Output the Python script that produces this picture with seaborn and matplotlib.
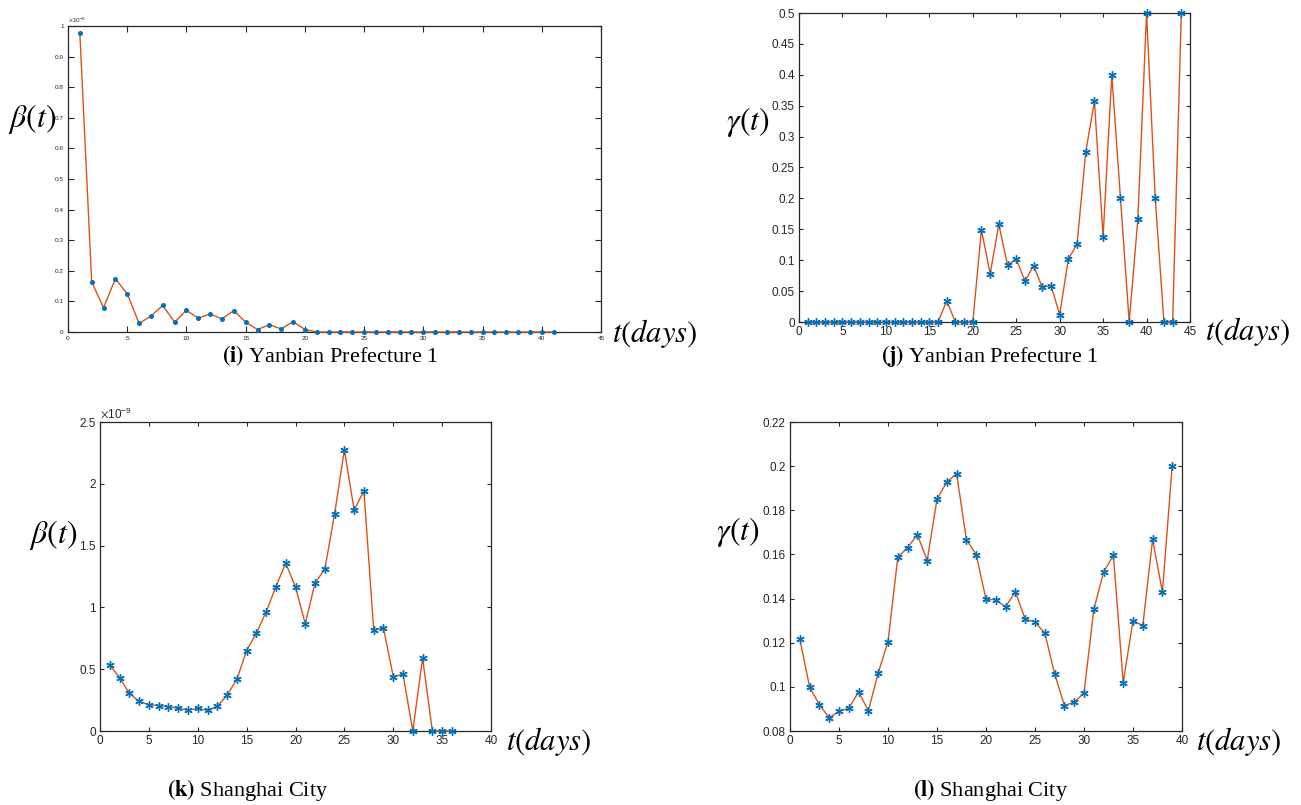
import numpy as np
import matplotlib
matplotlib.use("Agg")
import matplotlib.pyplot as plt
import seaborn as sns
from matplotlib.ticker import ScalarFormatter

# ---- data -------------------------------------------------------------
# Yanbian Prefecture 1: infection rate beta(t), in units of 1e-6
days_yb_beta = list(range(1, 42))
beta_yb = [0.977, 0.164, 0.079, 0.174, 0.125, 0.028, 0.052, 0.087, 0.032, 0.071,
           0.045, 0.059, 0.043, 0.070, 0.032, 0.008, 0.024, 0.010, 0.034, 0.008,
           0, 0, 0, 0, 0, 0, 0, 0, 0, 0, 0, 0, 0, 0, 0, 0, 0, 0, 0, 0, 0]

# Yanbian Prefecture 1: recovery rate gamma(t)
days_yb_gamma = list(range(1, 45))
gamma_yb = [0, 0, 0, 0, 0, 0, 0, 0, 0, 0, 0, 0, 0, 0, 0, 0, 0.034, 0, 0, 0,
            0.149, 0.078, 0.158, 0.092, 0.102, 0.066, 0.091, 0.056, 0.059, 0.012,
            0.102, 0.126, 0.275, 0.357, 0.138, 0.400, 0.200, 0, 0.1667, 0.5,
            0.200, 0, 0, 0.5]

# Shanghai City: infection rate beta(t), in units of 1e-9
days_sh_beta = list(range(1, 37))
beta_sh = [0.535, 0.432, 0.305, 0.240, 0.213, 0.205, 0.197, 0.184, 0.167, 0.184,
           0.167, 0.200, 0.289, 0.418, 0.651, 0.791, 0.964, 1.169, 1.358, 1.164,
           0.867, 1.199, 1.309, 1.755, 2.276, 1.787, 1.944, 0.818, 0.834, 0.440,
           0.459, 0, 0.591, 0, 0, 0]

# Shanghai City: recovery rate gamma(t)
days_sh_gamma = list(range(1, 40))
gamma_sh = [0.1218, 0.0999, 0.0919, 0.0860, 0.0889, 0.0903, 0.0977, 0.0892, 0.1063,
            0.1205, 0.1587, 0.1631, 0.1690, 0.1572, 0.1850, 0.1928, 0.1966, 0.1667,
            0.1599, 0.1397, 0.1394, 0.1363, 0.1430, 0.1306, 0.1294, 0.1243, 0.1060,
            0.0915, 0.0931, 0.0971, 0.1351, 0.1520, 0.1596, 0.1019, 0.1300, 0.1277,
            0.1668, 0.1430, 0.2002]

captions = ["(i)", "(j)", "(k)", "(l)"]
regions = ["Yanbian Prefecture 1", "Yanbian Prefecture 1", "Shanghai City", "Shanghai City"]

# ---- style ------------------------------------------------------------
sns.set_theme(style="ticks")
plt.rcParams["font.family"] = ["Liberation Sans", "DejaVu Sans"]
plt.rcParams["mathtext.fontset"] = "stix"

LINE_C = "#D95319"
MARK_C = "#0072BD"
AX_C = "#262626"
W, H = 1301, 805

fig = plt.figure(figsize=(W / 100, H / 100), dpi=100)


class PlainSci(ScalarFormatter):
    """Scientific offset label with plain %g tick numbers."""
    def _set_format(self):
        self.format = "%g"


def px_axes(left, top, right, bottom):
    return fig.add_axes([left / W, 1 - bottom / H, (right - left) / W, (bottom - top) / H])


def fig_text(x, y, s, **kw):
    fig.text(x / W, 1 - y / H, s, ha="center", va="center", **kw)


def panel(box, x, y, xmax, ylim, ystep, marker, msize, tsize, tlen, scale=None):
    ax = px_axes(*box)
    s = scale if scale else 1.0
    yy = np.asarray(y, dtype=float) * s
    sns.lineplot(x=x, y=yy, ax=ax, color=LINE_C, linewidth=1.0, sort=False,
                 errorbar=None, marker=marker, markersize=msize,
                 markeredgecolor=MARK_C, markerfacecolor=MARK_C,
                 markeredgewidth=1.0, clip_on=False, zorder=3)
    ax.set_xlim(0, xmax)
    ax.set_ylim(ylim[0] * s, ylim[1] * s)
    ax.set_xticks(np.arange(0, xmax + 1, 5))
    ax.set_yticks(np.arange(ylim[0], ylim[1] + ystep / 2, ystep) * s)
    ax.tick_params(direction="in", top=True, right=True, length=tlen, width=0.8,
                   labelsize=tsize, colors=AX_C, pad=3)
    for sp in ax.spines.values():
        sp.set_visible(True)
        sp.set_color(AX_C)
        sp.set_linewidth(0.9)
    ax.set_xlabel("")
    ax.set_ylabel("")
    if scale:
        fmt = PlainSci(useMathText=True)
        fmt.set_powerlimits((0, 0))
        ax.yaxis.set_major_formatter(fmt)
        ax.yaxis.get_offset_text().set_fontsize(tsize)
        ax.yaxis.get_offset_text().set_color(AX_C)
    else:
        ax.yaxis.set_major_formatter(plt.FuncFormatter(lambda v, p: f"{v:g}"))
    ax.xaxis.set_major_formatter(plt.FuncFormatter(lambda v, p: f"{v:g}"))
    return ax


star = (6, 2, 0)

panel((68, 26, 601, 332), days_yb_beta, beta_yb, 45, (0, 1.0), 0.1,
      "o", 2.6, 4.6, 4.5, scale=1e-6)
panel((799, 13, 1190, 322), days_yb_gamma, gamma_yb, 45, (0, 0.5), 0.05,
      star, 6, 8.5, 3)
panel((100, 422, 491, 731), days_sh_beta, beta_sh, 40, (0, 2.5), 0.5,
      star, 6, 8.5, 3, scale=1e-9)
panel((790, 422, 1182, 731), days_sh_gamma, gamma_sh, 40, (0.08, 0.22), 0.02,
      star, 6, 8.5, 3)

# axis symbols
lab_kw = dict(fontsize=23, color="black")
fig_text(32, 119, r"$\beta(t)$", **lab_kw)
fig_text(748, 122, r"$\gamma(t)$", **lab_kw)
fig_text(53, 535, r"$\beta(t)$", **lab_kw)
fig_text(738, 532, r"$\gamma(t)$", **lab_kw)

tk = dict(fontsize=22, color="black")
fig_text(655, 333, r"$t(days)$", **tk)
fig_text(1248, 332, r"$t(days)$", **tk)
fig_text(549, 741, r"$t(days)$", **tk)
fig_text(1239, 741, r"$t(days)$", **tk)

# sub-figure captions
cap_pos = [(330, 356), (990, 356), (248, 790), (991, 790)]
for (cx, cy), tag, name in zip(cap_pos, captions, regions):
    fig_text(cx, cy, r"$\mathbf{" + tag + "}$ " + name, fontsize=16,
             family=["Liberation Serif", "DejaVu Serif"], color="black")

fig.savefig("out.png", dpi=100, facecolor="white")
